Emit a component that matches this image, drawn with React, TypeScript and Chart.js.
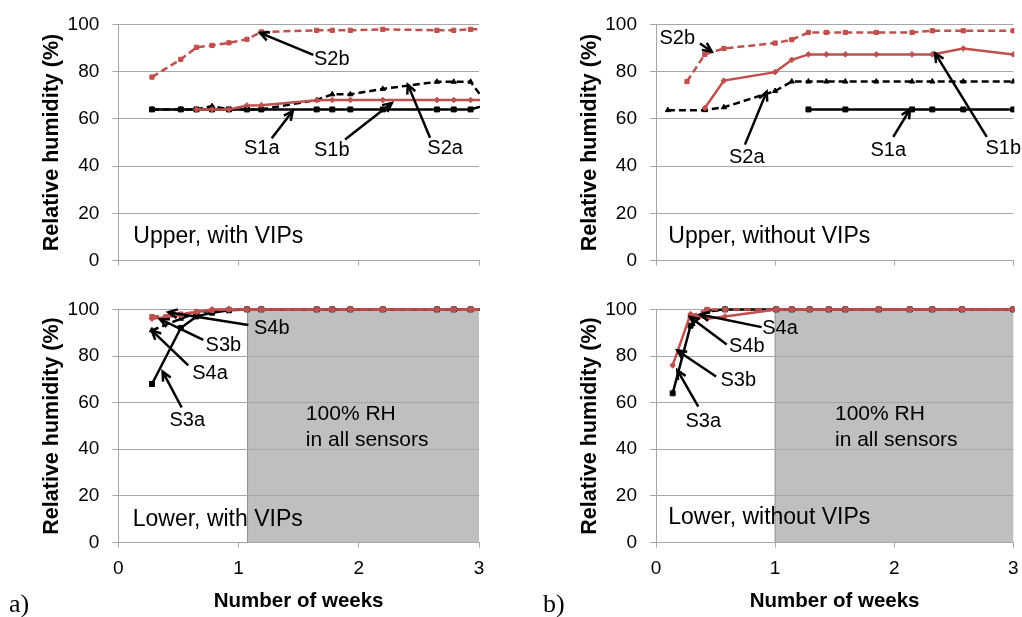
import React, { useEffect, useRef } from "react";
import { Chart, registerables } from "chart.js";

Chart.register(...registerables);

const RED = "#C0504D";
const BLACK = "#000000";
const GRID = "#A6A6A6";
const SHADE = "#BFBFBF";
const FONT = '"Liberation Sans", Arial, sans-serif';

// ---------- data (weeks / relative humidity %) ----------
const xUL = [0.28, 0.52, 0.65, 0.78, 0.92, 1.07, 1.19, 1.65, 1.78, 1.93, 2.2, 2.65, 2.79, 2.93, 3.1];
const ulS1a = [64, 64, 64, 64, 64, 64, 64, 64, 64, 64, 64, 64, 64, 64, 66.4];
const ulS1b = [null, null, 64, 64, 64, 65.7, 65.8, 67.9, 68, 68, 68, 68, 68, 68, 68];
const ulS2a = [64, 64, 64, 65.4, 64, 64, 64, 68, 70.4, 70.4, 72.7, 75.7, 75.7, 75.7, 64];
const ulS2b = [77.7, 85.2, 90.3, 91.1, 92.2, 93.7, 96.8, 97.5, 97.5, 97.5, 97.9, 97.5, 97.5, 97.9, 98];

const xUR = [0.1, 0.26, 0.41, 0.57, 1.0, 1.14, 1.28, 1.43, 1.59, 1.85, 2.15, 2.32, 2.58, 3.0];
const urS1a = [null, null, null, null, null, null, 64, null, 64, null, 64, 64, 64, 64];
const urS1b = [null, null, 64.6, 76.2, 79.8, 85, 87.3, 87.3, 87.3, 87.3, 87.3, 87.3, 89.8, 87.3];
const urS2a = [63.7, null, 63.7, 64.9, 71.8, 75.8, 75.8, 75.8, 75.8, 75.8, 75.8, 75.8, 75.8, 75.8];
const urS2b = [null, 75.8, 87.3, 89.8, 92.1, 93.5, 96.6, 96.6, 96.6, 96.6, 96.6, 97.3, 97.3, 97.3];

const xLL = [0.28, 0.52, 0.65, 0.78, 0.92, 1.07, 1.19, 1.65, 1.78, 1.93, 2.2, 2.65, 2.79, 2.93, 3.1];
const llS3a = [68, 92, 97, 98.6, 99.6, 100, 100, 100, 100, 100, 100, 100, 100, 100, 100];
const llS3b = [96, 97.5, 99, 100, 100, 100, 100, 100, 100, 100, 100, 100, 100, 100, 100];
const llS4a = [91, 96, 98.5, 99.5, 100, 100, 100, 100, 100, 100, 100, 100, 100, 100, 100];
const llS4b = [96.9, 98, 99, 99.6, 100, 100, 100, 100, 100, 100, 100, 100, 100, 100, 100];

const xLR = [0.14, 0.29, 0.43, 0.58, 1.01, 1.14, 1.29, 1.45, 1.59, 1.87, 2.13, 2.32, 2.57, 3.0];
const lrS3a = [64, 93, 99.5, 100, 100, 100, 100, 100, 100, 100, 100, 100, 100, 100];
const lrS3b = [76, 98, 96, 97, 100, 100, 100, 100, 100, 100, 100, 100, 100, 100];
const lrS4a = [null, 97, 99, 100, 100, 100, 100, 100, 100, 100, 100, 100, 100, 100];
const lrS4b = [null, 97, 100, 100, 100, 100, 100, 100, 100, 100, 100, 100, 100, 100];

const xTicks = [0, 1, 2, 3];
const yTicks = [0, 20, 40, 60, 80, 100];

// annotations: [text, labelX, labelY, arrowFromX, arrowFromY, arrowTipX, arrowTipY]
const ulNotes: any[] = [
  ["S2b", 1.775, 85.1, 1.622, 87.1, 1.179, 96.4],
  ["S1a", 1.193, 47.4, 1.276, 51.8, 1.451, 63.3],
  ["S1b", 1.775, 46.6, 1.886, 51.3, 2.275, 66.7],
  ["S2a", 2.718, 47.4, 2.593, 52.0, 2.408, 74.5],
];
const urNotes: any[] = [
  ["S2b", 0.179, 94.2, 0.369, 91.9, 0.468, 88.5],
  ["S2a", 0.762, 43.6, 0.747, 49.1, 0.929, 71.5],
  ["S1a", 1.95, 46.6, 1.992, 52.4, 2.133, 64.0],
  ["S1b", 2.916, 47.4, 2.777, 52.4, 2.343, 87.8],
];
const llNotes: any[] = [
  ["S4b", 1.276, 91.7, 1.082, 93.3, 0.416, 98.8],
  ["S3b", 0.874, 84.6, 0.707, 86.9, 0.347, 95.8],
  ["S4a", 0.763, 72.3, 0.582, 76.0, 0.278, 91.0],
  ["S3a", 0.574, 52.4, 0.527, 57.9, 0.369, 73.3],
];
const lrNotes: any[] = [
  ["S4a", 1.041, 91.7, 0.887, 92.4, 0.369, 97.8],
  ["S4b", 0.762, 84.2, 0.594, 84.9, 0.285, 96.7],
  ["S3b", 0.691, 69.6, 0.504, 71.2, 0.179, 82.4],
  ["S3a", 0.397, 52.1, 0.355, 58.3, 0.179, 73.9],
];

const panelTitles = ["Upper, with VIPs", "Upper, without VIPs", "Lower, with VIPs", "Lower, without VIPs"];
const shadeText = ["100% RH", "in all sensors"];

// ---------- styles ----------
const solidBlack = { color: BLACK, dash: false, point: "rect", r: 3.5 };
const solidRed = { color: RED, dash: false, point: "rectRot", r: 2.8 };
const dashBlack = { color: BLACK, dash: true, point: "triangle", r: 3 };
const dashRed = { color: RED, dash: true, point: "rect", r: 3 };

function makeDataset(label: string, xs: number[], ys: (number | null)[], st: any) {
  const data: any[] = [];
  xs.forEach((x, i) => {
    if (ys[i] !== null && ys[i] !== undefined) data.push({ x, y: ys[i] });
  });
  return {
    label,
    data,
    borderColor: st.color,
    backgroundColor: st.color,
    borderWidth: 2.5,
    borderDash: st.dash ? [7, 4] : [],
    pointStyle: st.point,
    pointRadius: st.r,
    pointBorderWidth: 1,
    pointBackgroundColor: st.color,
    pointBorderColor: st.color,
    tension: 0,
    clip: { left: 10, top: 10, right: 1, bottom: 10 },
  };
}

function drawArrow(ctx: CanvasRenderingContext2D, x1: number, y1: number, x2: number, y2: number) {
  ctx.beginPath();
  ctx.moveTo(x1, y1);
  ctx.lineTo(x2, y2);
  ctx.stroke();
  const a = Math.atan2(y2 - y1, x2 - x1);
  const L = 10;
  const s = 0.45;
  ctx.beginPath();
  ctx.moveTo(x2 - L * Math.cos(a - s), y2 - L * Math.sin(a - s));
  ctx.lineTo(x2, y2);
  ctx.lineTo(x2 - L * Math.cos(a + s), y2 - L * Math.sin(a + s));
  ctx.stroke();
}

type PanelCfg = {
  left: number; top: number; width: number; height: number;
  yAxisWidth: number; xAxisHeight: number; padTop: number; padRight: number;
  showX: boolean; yTitlePad: number;
  datasets: any[]; notes: any[]; title: string; titlePos: [number, number];
  shadeFrom: number | null; shadePos: [number, number, number];
};

const panels: PanelCfg[] = [
  {
    left: 0, top: 0, width: 500, height: 285, yAxisWidth: 118.3, xAxisHeight: 21.5, padTop: 18.5, padRight: 21,
    showX: false, yTitlePad: 39.1,
    datasets: [
      makeDataset("S2b", xUL, ulS2b, dashRed),
      makeDataset("S1b", xUL, ulS1b, solidRed),
      makeDataset("S2a", xUL, ulS2a, dashBlack),
      makeDataset("S1a", xUL, ulS1a, solidBlack),
    ],
    notes: ulNotes, title: panelTitles[0], titlePos: [0.125, 10.3], shadeFrom: null, shadePos: [0, 0, 0],
  },
  {
    left: 520, top: 0, width: 510, height: 285, yAxisWidth: 136, xAxisHeight: 21.5, padTop: 18.5, padRight: 16.7,
    showX: false, yTitlePad: 57.1,
    datasets: [
      makeDataset("S2b", xUR, urS2b, dashRed),
      makeDataset("S1b", xUR, urS1b, solidRed),
      makeDataset("S2a", xUR, urS2a, dashBlack),
      makeDataset("S1a", xUR, urS1a, solidBlack),
    ],
    notes: urNotes, title: panelTitles[1], titlePos: [0.103, 10.2], shadeFrom: null, shadePos: [0, 0, 0],
  },
  {
    left: 0, top: 285, width: 500, height: 332, yAxisWidth: 118.3, xAxisHeight: 74.5, padTop: 13, padRight: 21,
    showX: true, yTitlePad: 39.1,
    datasets: [
      makeDataset("S4b", xLL, llS4b, dashRed),
      makeDataset("S3b", xLL, llS3b, solidRed),
      makeDataset("S4a", xLL, llS4a, dashBlack),
      makeDataset("S3a", xLL, llS3a, solidBlack),
    ],
    notes: llNotes, title: panelTitles[2], titlePos: [0.12, 9.9], shadeFrom: 1.075, shadePos: [1.56, 54.9, 44.0],
  },
  {
    left: 520, top: 285, width: 510, height: 332, yAxisWidth: 136, xAxisHeight: 74.5, padTop: 13, padRight: 16.7,
    showX: true, yTitlePad: 57.1,
    datasets: [
      makeDataset("S4b", xLR, lrS4b, dashRed),
      makeDataset("S3b", xLR, lrS3b, solidRed),
      makeDataset("S4a", xLR, lrS4a, dashBlack),
      makeDataset("S3a", xLR, lrS3a, solidBlack),
    ],
    notes: lrNotes, title: panelTitles[3], titlePos: [0.103, 10.5], shadeFrom: 1.0, shadePos: [1.503, 54.9, 44.0],
  },
];

function Panel({ cfg }: { cfg: PanelCfg }) {
  const ref = useRef<HTMLCanvasElement | null>(null);
  useEffect(() => {
    if (!ref.current) return;
    const annot = {
      id: "annot",
      beforeDraw(chart: any) {
        if (cfg.shadeFrom === null) return;
        const { ctx, chartArea, scales } = chart;
        const x0 = scales.x.getPixelForValue(cfg.shadeFrom);
        ctx.save();
        ctx.fillStyle = SHADE;
        ctx.fillRect(x0, chartArea.top, chartArea.right - x0, chartArea.bottom - chartArea.top);
        ctx.strokeStyle = "#8E8E8E";
        ctx.lineWidth = 1;
        ctx.beginPath();
        ctx.moveTo(x0, chartArea.top);
        ctx.lineTo(x0, chartArea.bottom);
        ctx.stroke();
        ctx.restore();
      },
      afterDraw(chart: any) {
        const { ctx, scales } = chart;
        const px = (v: number) => scales.x.getPixelForValue(v);
        const py = (v: number) => scales.y.getPixelForValue(v);
        ctx.save();
        ctx.strokeStyle = BLACK;
        ctx.fillStyle = BLACK;
        ctx.lineWidth = 2.5;
        ctx.setLineDash([]);
        cfg.notes.forEach((n: any) => {
          drawArrow(ctx, px(n[3]), py(n[4]), px(n[5]), py(n[6]));
        });
        ctx.font = `20px ${FONT}`;
        ctx.textAlign = "center";
        ctx.textBaseline = "middle";
        cfg.notes.forEach((n: any) => {
          ctx.fillText(n[0], px(n[1]), py(n[2]));
        });
        ctx.textAlign = "left";
        ctx.font = `23px ${FONT}`;
        ctx.fillText(cfg.title, px(cfg.titlePos[0]), py(cfg.titlePos[1]));
        if (cfg.shadeFrom !== null) {
          ctx.font = `21px ${FONT}`;
          ctx.fillText(shadeText[0], px(cfg.shadePos[0]), py(cfg.shadePos[1]));
          ctx.fillText(shadeText[1], px(cfg.shadePos[0]), py(cfg.shadePos[2]));
        }
        ctx.restore();
      },
    };
    const chart = new Chart(ref.current, {
      type: "line",
      data: { datasets: cfg.datasets },
      plugins: [annot],
      options: {
        animation: false,
        responsive: false,
        maintainAspectRatio: false,
        devicePixelRatio: 1,
        layout: { padding: { top: cfg.padTop, right: cfg.padRight, left: 0, bottom: 0 } },
        plugins: { legend: { display: false }, tooltip: { enabled: false } },
        scales: {
          x: {
            type: "linear",
            min: 0,
            max: 3,
            afterBuildTicks: (s: any) => { s.ticks = xTicks.map((v) => ({ value: v })); },
            ticks: { display: cfg.showX, padding: 9.4, font: { family: FONT, size: 19 }, color: "#000" },
            grid: { drawOnChartArea: false, drawTicks: true, tickLength: 5, color: GRID, lineWidth: 1 },
            border: { color: GRID, width: 1 },
            title: {
              display: cfg.showX,
              text: "Number of weeks",
              font: { family: FONT, size: 20.5, weight: "bold" },
              color: "#000",
              padding: { top: 0, bottom: 3 },
            },
            afterFit: (s: any) => { s.height = cfg.xAxisHeight; },
          },
          y: {
            type: "linear",
            min: 0,
            max: 100,
            afterBuildTicks: (s: any) => { s.ticks = yTicks.map((v) => ({ value: v })); },
            ticks: { padding: 13, font: { family: FONT, size: 19 }, color: "#000" },
            grid: { color: GRID, tickLength: 6, lineWidth: 1 },
            border: { color: GRID, width: 1 },
            title: {
              display: true,
              text: "Relative humidity (%)",
              font: { family: FONT, size: 21.5, weight: "bold" },
              color: "#000",
              padding: { top: cfg.yTitlePad, bottom: 0 },
            },
            afterFit: (s: any) => { s.width = cfg.yAxisWidth; },
          },
        },
      } as any,
    });
    return () => chart.destroy();
  }, [cfg]);
  return (
    <canvas
      ref={ref}
      width={cfg.width}
      height={cfg.height}
      style={{ position: "absolute", left: cfg.left, top: cfg.top, width: cfg.width, height: cfg.height }}
    />
  );
}

const subLabels = [
  { text: "a)", left: 9 },
  { text: "b)", left: 543 },
];

export default function App() {
  return (
    <div style={{ position: "absolute", left: 0, top: 0, width: 1022, height: 617, background: "#fff", overflow: "hidden" }}>
      {panels.map((p, i) => (
        <Panel key={i} cfg={p} />
      ))}
      {subLabels.map((s) => (
        <div
          key={s.text}
          style={{
            position: "absolute",
            left: s.left,
            top: 591,
            fontFamily: '"Liberation Serif", "Times New Roman", serif',
            fontSize: 26,
            lineHeight: "26px",
            color: "#000",
          }}
        >
          {s.text}
        </div>
      ))}
    </div>
  );
}
